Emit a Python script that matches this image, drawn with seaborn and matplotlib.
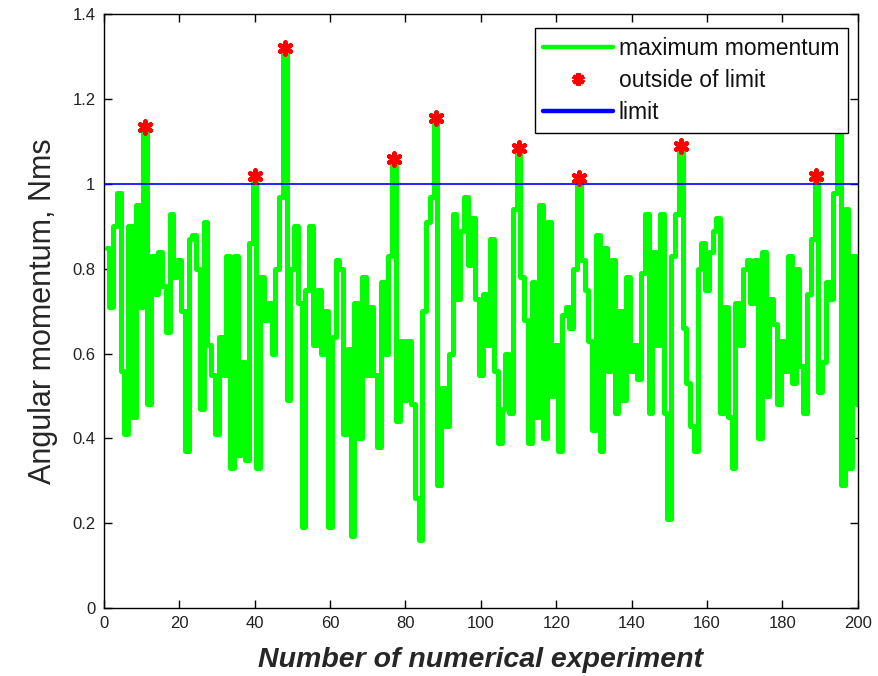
import numpy as np
import pandas as pd
import matplotlib
matplotlib.use("Agg")
import matplotlib.pyplot as plt
import seaborn as sns
from matplotlib.lines import Line2D

# ---------------- data ----------------
experiment = list(range(1, 201))
momentum = [
    0.85, 0.71, 0.90, 0.98, 0.56, 0.41, 0.90, 0.45, 0.95, 0.71,
    1.135, 0.48, 0.83, 0.74, 0.84, 0.76, 0.65, 0.93, 0.78, 0.82,
    0.70, 0.37, 0.87, 0.88, 0.80, 0.47, 0.91, 0.62, 0.55, 0.41,
    0.64, 0.55, 0.83, 0.33, 0.83, 0.36, 0.58, 0.35, 0.86, 1.02,
    0.33, 0.78, 0.68, 0.72, 0.60, 0.80, 0.97, 1.32, 0.49, 0.80,
    0.90, 0.72, 0.19, 0.75, 0.90, 0.62, 0.75, 0.60, 0.70, 0.19,
    0.64, 0.82, 0.80, 0.41, 0.61, 0.17, 0.72, 0.40, 0.78, 0.55,
    0.71, 0.55, 0.38, 0.77, 0.60, 0.83, 1.06, 0.44, 0.63, 0.49,
    0.63, 0.48, 0.26, 0.16, 0.70, 0.91, 0.97, 1.155, 0.29, 0.52,
    0.43, 0.60, 0.93, 0.73, 0.89, 0.97, 0.81, 0.92, 0.73, 0.55,
    0.74, 0.62, 0.87, 0.56, 0.39, 0.47, 0.60, 0.46, 0.94, 1.085,
    0.78, 0.68, 0.39, 0.77, 0.45, 0.95, 0.40, 0.91, 0.50, 0.62,
    0.37, 0.69, 0.71, 0.66, 0.80, 1.015, 0.82, 0.75, 0.63, 0.42,
    0.88, 0.37, 0.85, 0.56, 0.82, 0.46, 0.70, 0.49, 0.78, 0.56,
    0.62, 0.54, 0.79, 0.93, 0.46, 0.84, 0.62, 0.93, 0.46, 0.21,
    0.83, 0.93, 1.09, 0.66, 0.53, 0.43, 0.37, 0.80, 0.86, 0.75,
    0.84, 0.89, 0.92, 0.46, 0.71, 0.45, 0.33, 0.72, 0.62, 0.80,
    0.82, 0.72, 0.82, 0.40, 0.84, 0.50, 0.73, 0.67, 0.48, 0.63,
    0.56, 0.83, 0.53, 0.80, 0.57, 0.46, 0.74, 0.87, 1.02, 0.51,
    0.58, 0.77, 0.73, 0.98, 1.22, 0.29, 0.94, 0.33, 0.83, 0.48,
]
limit = 1.0
x_ticks = [0, 20, 40, 60, 80, 100, 120, 140, 160, 180, 200]
y_ticks = [0, 0.2, 0.4, 0.6, 0.8, 1.0, 1.2, 1.4]
y_tick_labels = ["0", "0.2", "0.4", "0.6", "0.8", "1", "1.2", "1.4"]

df = pd.DataFrame({"experiment": experiment, "momentum": momentum})
outside = df[df["momentum"] > limit]

# ---------------- style ----------------
sns.set_style("white")
plt.rcParams["font.family"] = ["Liberation Sans", "DejaVu Sans"]

fig = plt.figure(figsize=(8.79, 6.76), dpi=100)
ax = fig.add_axes([0.118, 0.1006, 0.858, 0.878])

star = (6, 2, 0)
sns.lineplot(data=df, x="experiment", y="momentum", ax=ax, color="#00ff00",
             linewidth=3.6, estimator=None, sort=False, legend=False, zorder=2,
             drawstyle="steps-mid")
ax.axhline(limit, color="#0000ff", linewidth=1.2, zorder=3)
sns.scatterplot(data=outside, x="experiment", y="momentum", ax=ax,
                marker=star, s=75, color="#ff0000", edgecolor="#ff0000",
                linewidth=3.2, legend=False, zorder=4)

ax.set_xlim(0, 200)
ax.set_ylim(0, 1.4)
ax.set_xticks(x_ticks)
ax.set_xticklabels([str(t) for t in x_ticks])
ax.set_yticks(y_ticks)
ax.set_yticklabels(y_tick_labels)
ax.tick_params(direction="in", length=6, width=1, labelsize=12,
               top=True, right=True, bottom=True, left=True, colors="black",
               labelcolor="#222222", pad=6)
for s in ax.spines.values():
    s.set_color("black")
    s.set_linewidth(1)
    s.set_visible(True)

ax.set_xlabel("Number of numerical experiment", fontsize=20.5, fontstyle="italic",
              fontweight="bold", labelpad=11)
ax.set_ylabel("Angular momentum, Nms", fontsize=22, labelpad=10)

handles = [
    Line2D([], [], color="#00ff00", linewidth=3.2),
    Line2D([], [], color="#ff0000", linestyle="none", marker=star,
           markersize=9, markeredgewidth=3),
    Line2D([], [], color="#0000ff", linewidth=3.2),
]
labels = ["maximum momentum", "outside of limit", "limit"]
leg = ax.legend(handles, labels, loc="upper right", bbox_to_anchor=(0.987, 0.977),
                fontsize=16.5, frameon=True, fancybox=False, framealpha=1,
                edgecolor="black", handlelength=3.05, handletextpad=0.25,
                borderpad=0.38, labelspacing=0.4, borderaxespad=0)
leg.get_frame().set_linewidth(1)
leg.set_zorder(10)
for t in leg.get_texts():
    t.set_color("#111111")

fig.savefig("out.png", dpi=100, facecolor="white")
